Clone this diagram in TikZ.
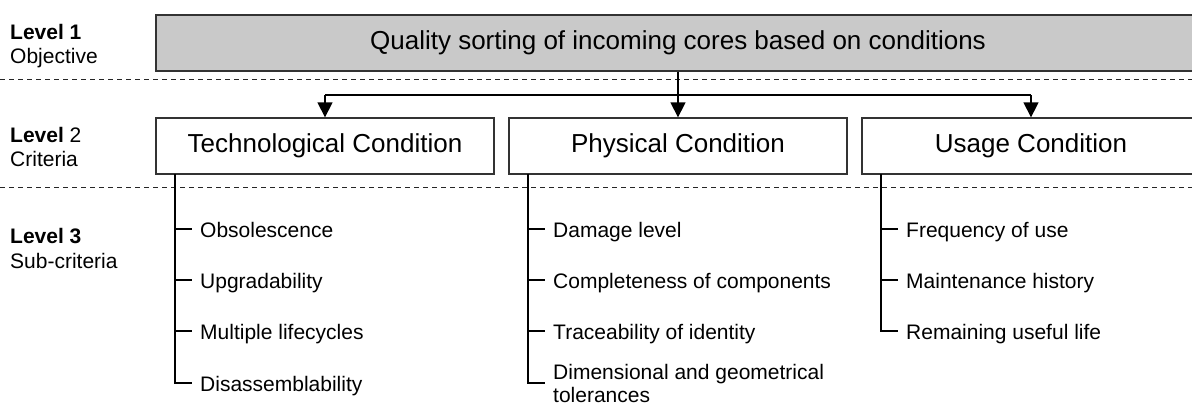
\documentclass[tikz,border=0pt]{standalone}
\usepackage{fontspec}
\setmainfont{Liberation Sans}
\usetikzlibrary{arrows.meta}
\begin{document}
\begin{tikzpicture}[x=1pt,y=-1pt,
  levellabel/.style={anchor=base west,inner sep=0pt,font=\fontsize{21}{24}\selectfont},
  goalbox/.style={draw=black!80,line width=1.3pt,fill=black!21,minimum width=1044pt,minimum height=56pt,inner sep=0pt,font=\fontsize{26}{30}\selectfont},
  critbox/.style={draw=black!80,line width=1.3pt,fill=white,minimum width=338pt,minimum height=56pt,inner sep=0pt,font=\fontsize{26}{30}\selectfont},
  subitem/.style={anchor=base west,inner sep=0pt,font=\fontsize{21}{24}\selectfont,align=left},
  subitemtwo/.style={anchor=west,inner sep=0pt,font=\fontsize{21}{23}\selectfont,align=left},
  levelsep/.style={draw=black!85,line width=1pt,dash pattern=on 5pt off 4pt},
  link/.style={draw=black,line width=1.3pt},
  branch/.style={draw=black,line width=1.3pt,-{Triangle[width=15pt,length=15pt]}},
  tick/.style={draw=black,line width=1.2pt}
]
\useasboundingbox (0,0) rectangle (1192,405);
\clip (0,0) rectangle (1192,405);

% level labels
\node[levellabel] (l1a) at (10,39) {\bfseries Level 1};
\node[levellabel] (l1b) at (10,63) {Objective};
\node[levellabel] (l2a) at (10,142) {{\bfseries Level} 2};
\node[levellabel] (l2b) at (10,166) {Criteria};
\node[levellabel] (l3a) at (10,243) {\bfseries Level 3};
\node[levellabel] (l3b) at (10,268) {Sub-criteria};

% level separators
\coordinate (s1a) at (0,79);   \coordinate (s1b) at (1192,79);
\coordinate (s2a) at (0,187);  \coordinate (s2b) at (1192,187);
\draw[levelsep] (s1a) -- (s1b);
\draw[levelsep] (s2a) -- (s2b);

% objective and criteria
\node[goalbox] (goal) at (678,43) {Quality sorting of incoming cores based on conditions};
\node[critbox] (tech) at (325,146) {Technological Condition};
\node[critbox] (phys) at (678,146) {Physical Condition};
\node[critbox] (usage) at (1031,146) {Usage Condition};

% branching from the objective to each criterion
\coordinate (bus) at (678,95);
\draw[branch] (goal.south) -- (phys.north);
\draw[link] (bus -| tech.north) -- (bus -| usage.north);
\draw[branch] (bus -| tech.north) -- (tech.north);
\draw[branch] (bus -| usage.north) -- (usage.north);

% tick rows of the sub-criteria lists
\coordinate (r1) at (0,229);
\coordinate (r2) at (0,280);
\coordinate (r3) at (0,331);
\coordinate (r4) at (0,383);

% sub-criteria: technological
\coordinate (ta) at (175,174);
\node[subitem] (t1) at (200,237) {Obsolescence};
\node[subitem] (t2) at (200,288) {Upgradability};
\node[subitem] (t3) at (200,339) {Multiple lifecycles};
\node[subitem] (t4) at (200,391) {Disassemblability};
\draw[tick] (ta) |- ([xshift=-8pt]t4.west |- r4);
\draw[tick] (ta |- r1) -- ([xshift=-8pt]t1.west |- r1);
\draw[tick] (ta |- r2) -- ([xshift=-8pt]t2.west |- r2);
\draw[tick] (ta |- r3) -- ([xshift=-8pt]t3.west |- r3);

% sub-criteria: physical
\coordinate (pa) at (528,174);
\node[subitem] (p1) at (553,237) {Damage level};
\node[subitem] (p2) at (553,288) {Completeness of components};
\node[subitem] (p3) at (553,339) {Traceability of identity};
\node[subitemtwo] (p4) at (553,383) {Dimensional and geometrical\\tolerances};
\draw[tick] (pa) |- ([xshift=-8pt]p4.west |- r4);
\draw[tick] (pa |- r1) -- ([xshift=-8pt]p1.west |- r1);
\draw[tick] (pa |- r2) -- ([xshift=-8pt]p2.west |- r2);
\draw[tick] (pa |- r3) -- ([xshift=-8pt]p3.west |- r3);

% sub-criteria: usage
\coordinate (ua) at (881,174);
\node[subitem] (u1) at (906,237) {Frequency of use};
\node[subitem] (u2) at (906,288) {Maintenance history};
\node[subitem] (u3) at (906,339) {Remaining useful life};
\draw[tick] (ua) |- ([xshift=-8pt]u3.west |- r3);
\draw[tick] (ua |- r1) -- ([xshift=-8pt]u1.west |- r1);
\draw[tick] (ua |- r2) -- ([xshift=-8pt]u2.west |- r2);
\end{tikzpicture}
\end{document}
